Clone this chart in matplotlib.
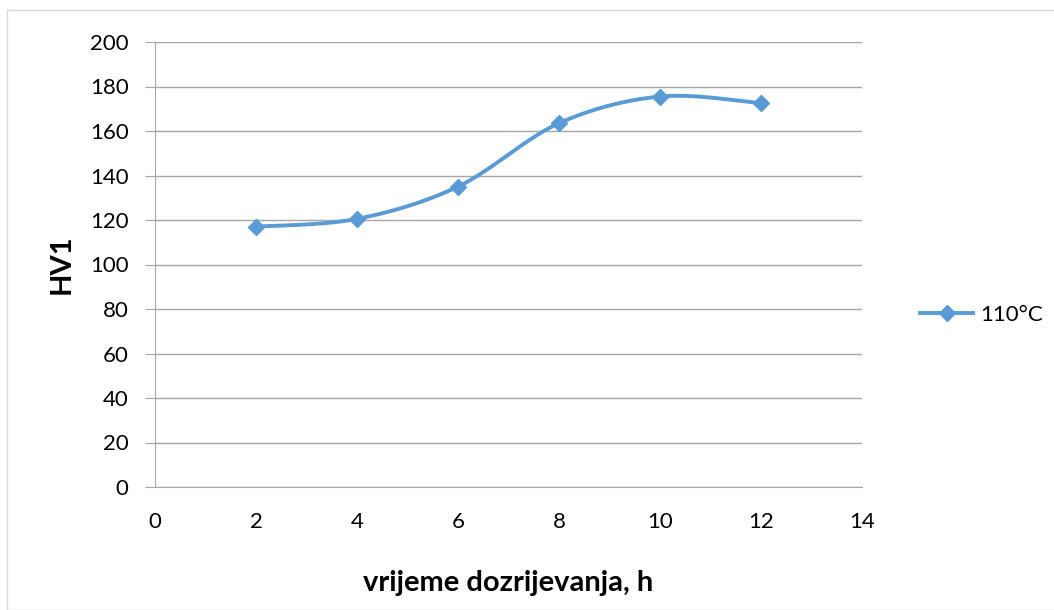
import numpy as np
import matplotlib.pyplot as plt
from matplotlib.patches import Rectangle
from matplotlib.lines import Line2D

plt.rcParams['font.family'] = ['Lato', 'DejaVu Sans']

hours = [2, 4, 6, 8, 10, 12]
hv1 = [117, 120.5, 135, 163.5, 175.5, 172.5]
series_name = '110°C'
blue = '#5B9BD5'
grid_col = '#A6A6A6'


def smooth(x, y, n=40):
    # Excel-style smoothed line (Catmull-Rom as cubic Bezier)
    x = np.asarray(x, float)
    y = np.asarray(y, float)
    px = np.concatenate([[x[0]], x, [x[-1]]])
    py = np.concatenate([[y[0]], y, [y[-1]]])
    xs, ys = [], []
    t = np.linspace(0, 1, n)
    for i in range(1, len(px) - 2):
        p0 = np.array([px[i], py[i]])
        p3 = np.array([px[i + 1], py[i + 1]])
        c1 = p0 + (np.array([px[i + 1], py[i + 1]]) - np.array([px[i - 1], py[i - 1]])) / 6
        c2 = p3 - (np.array([px[i + 2], py[i + 2]]) - np.array([px[i], py[i]])) / 6
        b = ((1 - t) ** 3)[:, None] * p0 + (3 * (1 - t) ** 2 * t)[:, None] * c1 \
            + (3 * (1 - t) * t ** 2)[:, None] * c2 + (t ** 3)[:, None] * p3
        xs.extend(b[:, 0])
        ys.extend(b[:, 1])
    return xs, ys


fig = plt.figure(figsize=(10.54, 6.10), dpi=100)
fig.patches.append(Rectangle((7 / 1054, 0), 1, 1 - 10 / 610, transform=fig.transFigure,
                             fill=False, edgecolor='#D9D9D9', linewidth=1))
ax = fig.add_axes([155 / 1054, 1 - 487 / 610, (862 - 155) / 1054, (487 - 42) / 610])

sx, sy = smooth(hours, hv1)
ax.plot(sx, sy, color=blue, linewidth=2.8, solid_capstyle='round')
ax.plot(hours, hv1, linestyle='none', marker='D', markersize=8, color=blue)

ax.set_xlim(0, 14)
ax.set_ylim(0, 200)
ax.set_xticks(range(0, 15, 2))
ax.set_yticks(range(0, 201, 20))
ax.yaxis.grid(True, color=grid_col, linewidth=1)
ax.set_axisbelow(True)
for s in ['top', 'right']:
    ax.spines[s].set_visible(False)
ax.spines['left'].set_color(grid_col)
ax.spines['bottom'].set_color(grid_col)
ax.tick_params(axis='y', length=7, color=grid_col, labelsize=16, pad=12)
ax.tick_params(axis='x', length=0, labelsize=16, pad=18)

ax.set_xlabel('vrijeme dozrijevanja, h', fontsize=21, fontweight='bold', labelpad=27)
ax.set_ylabel('HV1', fontsize=21, fontweight='bold', va='center')
ax.yaxis.set_label_coords(-0.1315, 0.5)

handle = Line2D([], [], color=blue, linewidth=2.8, marker='D', markersize=8)
fig.legend([handle], [series_name], loc='center left', bbox_to_anchor=(900 / 1054, 1 - 315 / 610),
           frameon=False, fontsize=16, handlelength=2.4, handletextpad=0.3)

fig.savefig('out.png', dpi=100)
